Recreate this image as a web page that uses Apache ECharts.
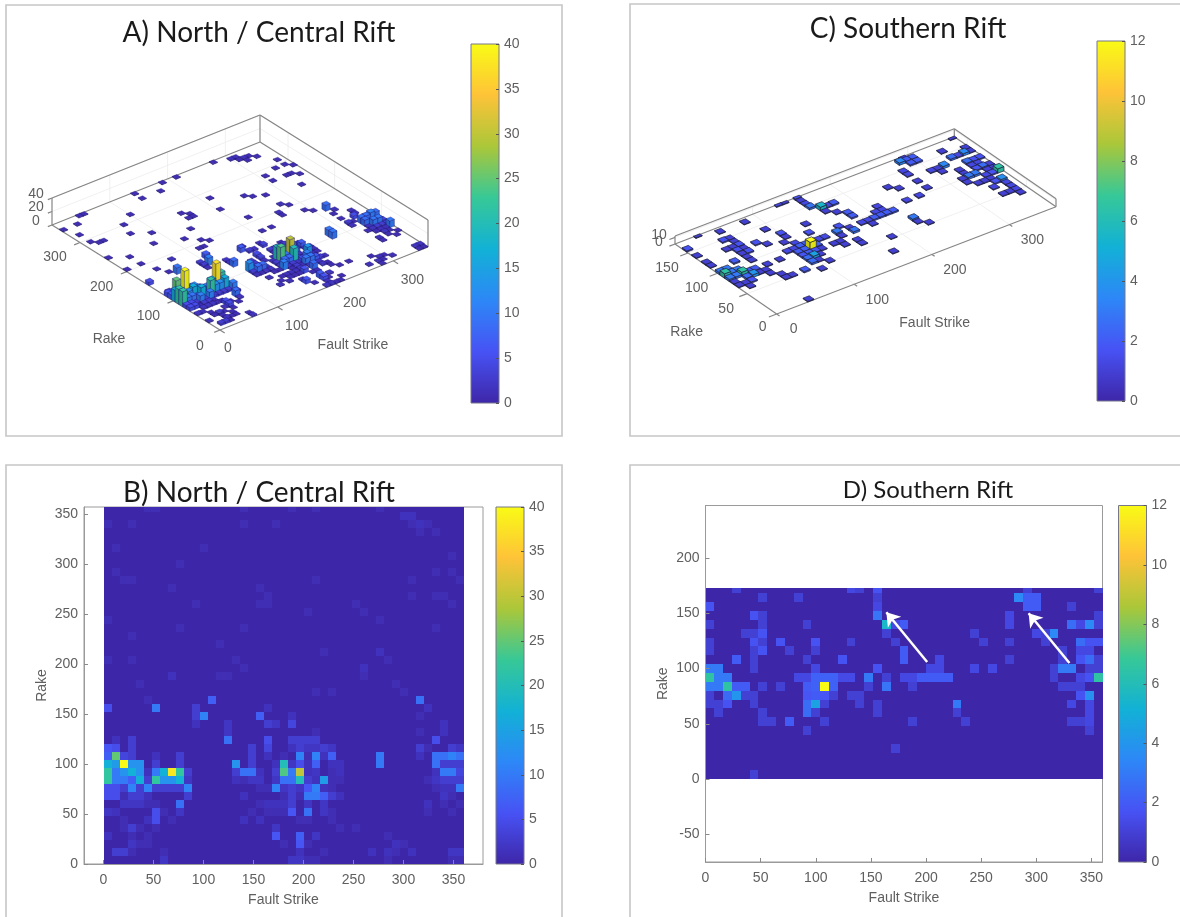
<!DOCTYPE html>
<html><head><meta charset="utf-8">
<style>html,body{margin:0;padding:0;background:#fff}#c{width:1180px;height:917px}</style>
<script src="https://cdn.jsdelivr.net/npm/echarts@6/dist/echarts.min.js"></script>
</head><body><div id="c"></div>
<script>
// ---- data ----
const binWidth = 8;
const parulaStops = ['#3E26A8','#4752F4','#2D87F7','#12B1D6','#37C897','#ABC739','#FEC338','#F9FB15'];
const northMax = 40, southMax = 12;
const northTicksColor = [0,5,10,15,20,25,30,35,40];
const southTicksColor = [0,2,4,6,8,10,12];
const strikeTicks = [0,50,100,150,200,250,300,350];
const rakeTicksB = [0,50,100,150,200,250,300,350];
const rakeTicksD = [-50,0,50,100,150,200];
const strike3DTicks = [0,100,200,300];
const rake3DTicksA = [0,100,200,300];
const rake3DTicksC = [0,50,100,150];
const z3DTicksA = [0,20,40];
const z3DTicksC = [0,10];
// [strike bin, rake bin, count]
const northCells = [
[7,0,2],[23,0,2],[24,0,2],[25,0,1],[26,0,1],[43,0,1],[44,0,1],[35,0,1],
[1,1,3],[2,1,3],[3,1,1],[7,1,1],[24,1,1.5],[27,1,1],[33,1,1.5],[35,1,1.5],[36,1,1],[38,1,1.5],[43,1,2],[44,1,2],
[3,2,2],[4,2,1],[5,2,1],[24,2,6],[25,2,1],[36,2,1.5],[37,2,1],[22,2,1],
[0,3,1.5],[3,3,1],[5,3,1],[21,3,6],[24,3,7],[26,3,2],[35,3,1],
[2,4,1],[3,4,3],[4,4,1],[6,4,1],[21,4,2],[29,4,1],[31,4,1],
[2,5,1],[5,5,1.5],[6,5,5],[8,5,1],[17,5,1.5],[19,5,1.5],[24,5,1],[25,5,1],[28,5,1],
[0,6,2],[1,6,1.5],[6,6,5],[7,6,1],[9,6,2],[18,6,1],[20,6,1],[21,6,1],[22,6,1],[23,6,6],[25,6,9],[27,6,2],[28,6,1],[40,6,1],[43,6,1],
[2,7,2],[3,7,2],[4,7,2],[5,7,1],[6,7,1],[9,7,9],[19,7,1],[20,7,1.5],[21,7,1.5],[22,7,1.5],[23,7,3],[25,7,2],[27,7,2],[40,7,1.5],[42,7,1],[44,7,1],
[0,8,5],[1,8,5],[2,8,1],[3,8,3],[4,8,3],[5,8,1.5],[10,8,3],[17,8,1.5],[22,8,1],[23,8,3],[24,8,1],[25,8,10],[26,8,10],[27,8,7],[28,8,3],[29,8,1.5],[42,8,2],[43,8,1],
[0,9,5],[1,9,5],[2,9,3],[3,9,11],[4,9,3],[5,9,11],[6,9,3],[7,9,3],[8,9,3],[9,9,3],[10,9,11],[19,9,1],[20,9,1],[21,9,11],[22,9,2],[23,9,3],[24,9,2],[25,9,6],[26,9,11],[27,9,1.5],[28,9,1],[41,9,1],[42,9,1.5],[43,9,1.5],[44,9,10],
[0,10,22],[1,10,10],[2,10,10],[3,10,7],[4,10,17],[5,10,3],[6,10,22],[7,10,13],[8,10,13],[9,10,17],[10,10,2],[16,10,1.5],[17,10,1],[18,10,2],[19,10,2],[21,10,2],[22,10,9],[23,10,9],[24,10,20],[25,10,3],[26,10,1.5],[27,10,14],[28,10,1],[29,10,1],[40,10,1],[41,10,2],[42,10,3],[43,10,3],[44,10,3],
[0,11,22],[1,11,10],[2,11,13],[3,11,17],[4,11,13],[5,11,1.5],[6,11,10],[7,11,17],[8,11,38],[9,11,22],[10,11,3],[16,11,3],[17,11,9],[18,11,9],[19,11,1.5],[21,11,3],[22,11,24],[23,11,10],[24,11,30],[25,11,1.5],[26,11,2],[28,11,1],[29,11,1.5],[41,11,1.5],[42,11,10],[43,11,10],[44,11,4],
[0,12,17],[1,12,14],[2,12,40],[3,12,13],[4,12,13],[6,12,3],[9,12,3],[16,12,13],[18,12,3],[21,12,1.5],[22,12,20],[23,12,2],[24,12,5],[25,12,1.5],[26,12,7],[28,12,1.5],[29,12,1.5],[34,12,10],[41,12,9],[42,12,3],[43,12,3],[44,12,3],
[0,13,7],[1,13,25],[2,13,4],[3,13,3],[6,13,1.5],[9,13,3],[18,13,3],[20,13,1.5],[22,13,1],[24,13,11],[25,13,1],[26,13,11],[27,13,1.5],[28,13,7],[34,13,10],[39,13,1.5],[41,13,9],[42,13,9],[43,13,11],[44,13,9],
[0,14,6],[1,14,5],[3,14,3],[18,14,3],[20,14,4],[23,14,1.5],[24,14,3],[25,14,2],[26,14,2],[27,14,3],[28,14,2],[39,14,3],[40,14,1],[43,14,3],[44,14,2],
[1,15,1.5],[3,15,3],[15,15,9],[20,15,5],[23,15,3],[24,15,3],[25,15,3],[26,15,3],[41,15,5],
[15,16,2],[26,16,1],[42,16,1.5],[39,16,1],
[11,17,1.5],[15,17,2],[20,17,3],[21,17,2],[23,17,4],[42,17,1.5],
[11,18,3],[12,18,11],[19,18,7],[23,18,1.5],[39,18,1],
[0,19,5],[6,19,10],[11,19,3],[20,19,1.5],[40,19,1.5],
[5,20,1],[13,20,7],[39,20,9],
[26,21,1],[28,21,1],[37,21,1],
[36,22,1],[4,22,1],
[14,23,1],[15,23,1],[8,23,1.5],[32,23,1],
[17,24,1],[32,24,1.5],
[3,25,1],[0,25,1],[16,25,1],[35,25,1],
[27,26,1],[34,26,1.5],
[14,27,1],[3,28,1],[9,29,1],[17,29,1],[41,29,1],
[0,30,1],[34,30,1],[25,31,1],[32,31,1],
[11,32,1],[19,32,1],[20,32,1],[31,32,1],[43,32,1],
[20,33,1],[38,33,1],[41,33,1],[42,33,1],
[8,34,1],[19,34,1],
[2,35,1],[3,35,1],[26,35,1],[38,35,1],[44,35,1],
[1,36,1],[41,36,1],[43,36,1],
[9,37,1],[43,38,1],
[1,39,1],[12,39,1],
[17,42,1],[21,42,1],[3,42,1],[0,42,1],[38,42,1],[39,42,1.5],[40,42,1],
[37,43,1.5],[38,43,1.5],
[5,44,1],[6,44,1],[17,44,1],[23,44,1],[26,44,1],[34,44,1],[41,41,1],[39,41,1]
];
const southCells = [
[5,0,1],[21,3,1],[11,5,1],[43,5,1],
[6,6,1],[7,6,1],[9,6,2],[13,6,1],[23,6,1],[29,6,1],[41,6,1],[42,6,1],[43,6,1.3],
[1,7,1],[6,7,1],[11,7,2.6],[12,7,1],[19,7,1],[28,7,1],[43,7,1.3],
[0,8,1],[1,8,1],[2,8,1.7],[5,8,1],[11,8,2.6],[12,8,4.5],[13,8,1],[17,8,1],[19,8,1],[28,8,3],[41,8,1.3],[43,8,1.3],
[0,9,1],[2,9,2.5],[3,9,4],[4,9,1],[5,9,1],[11,9,1.8],[12,9,2],[13,9,1.8],[14,9,1],[16,9,1],[17,9,1],[42,9,1.7],[43,9,3.8],
[0,10,3],[1,10,3],[2,10,6.5],[3,10,2],[4,10,2],[6,10,1],[8,10,1],[11,10,2],[12,10,2.2],[13,10,12],[14,10,2.2],[18,10,1],[20,10,2.8],[23,10,1],[40,10,1],[41,10,1],[42,10,1],
[0,11,6.5],[1,11,3],[2,11,3],[10,11,1.3],[11,11,1.3],[12,11,2.2],[13,11,2.2],[14,11,2.2],[15,11,1.4],[16,11,1.4],[18,11,3],[20,11,1],[22,11,1.3],[23,11,1.3],[24,11,2],[25,11,2],[26,11,2],[27,11,2],[39,11,1],[42,11,1.3],[43,11,1.7],[44,11,6.5],
[0,12,3],[1,12,3],[5,12,1],[12,12,1.3],[19,12,1.7],[25,12,1.3],[26,12,1.3],[30,12,1.3],[32,12,1.3],[39,12,1],[40,12,3],[41,12,3],[43,12,1],[44,12,1],
[3,13,2],[5,13,1],[11,13,1],[15,13,1.7],[22,13,2],[26,13,1.3],[34,13,1],[40,13,1],[42,13,1.7],[43,13,2.6],[44,13,1],
[0,14,1],[5,14,1],[6,14,1.7],[9,14,1],[12,14,1],[22,14,2],[40,14,1],[42,14,1.3],[43,14,1.3],
[0,15,1],[5,15,1.7],[6,15,1],[8,15,1.7],[12,15,1.7],[16,15,1],[21,15,1],[31,15,1],[34,15,1],[38,15,1],[42,15,2.6],[43,15,1.7],[44,15,1.7],
[4,16,1],[5,16,1],[6,16,1.7],[20,16,1],[30,16,1],[37,16,1.3],[38,16,1],[39,16,3.5],
[0,17,1],[6,17,1],[11,17,1],[20,17,5.5],[21,17,1.3],[22,17,2],[34,17,1.3],[41,17,2.6],[42,17,1.3],[43,17,3.5],[44,17,1],
[5,18,1.7],[6,18,1],[19,18,2.8],[34,18,1.3],[44,18,1],
[0,19,1.7],[19,19,1.3],[36,19,2],[37,19,2],[41,19,1],
[6,20,1],[10,20,1],[19,20,1],[35,20,3.5],[36,20,2],[37,20,2],
[3,21,1],[16,21,1.3],[17,21,1],[19,21,1.7],[36,21,1],[44,21,1]
];
const arrowTails = [[201,106],[330,105]];
const arrowTips = [[164,151],[293,150]];

// ---- look ----
const FONT = '"Liberation Sans",Arial,sans-serif';
const TICK = '#5f5f5f';
const tickStyle = {color:TICK,fontFamily:FONT,fontSize:14};
const frameA = {o:[220,330],sv:[208/360,-83/360],rv:[-168/360,-105/360],zv:27/40,sMax:360,rMax:360,zMax:40,vMax:northMax,
  stroke:'rgba(30,20,110,0.9)',lw:0.4,
  sOff:[19,19],rOff:[-25,15],sOff0:[8,18],rOff0:[-20,16],zOff:[-16,-4]};
const frameC = {o:[776.7,314],sv:[279.3/360,-107.3/360],rv:[-101.7/172,-70/172],zv:8/12,sMax:360,rMax:172,zMax:12,vMax:southMax,
  stroke:'#20203a',lw:0.7,
  sOff:[23,16],rOff:[-21,15],sOff0:[17,15],rOff0:[-14,13],zOff:[-16,-2]};
const nameOffA = [{t:'Fault Strike',dx:133,dy:15},{t:'Rake',dx:-111,dy:9}];
const nameOffC = [{t:'Fault Strike',dx:158,dy:9},{t:'Rake',dx:-90,dy:18}];

function hexRgb(h){return [1,3,5].map(i=>parseInt(h.substr(i,2),16));}
function colorAt(t){
  t=Math.max(0,Math.min(1,t))*(parulaStops.length-1);
  const i=Math.min(Math.floor(t),parulaStops.length-2),f=t-i;
  const a=hexRgb(parulaStops[i]),b=hexRgb(parulaStops[i+1]);
  return 'rgb('+a.map((v,k)=>Math.round(v+(b[k]-v)*f)).join(',')+')';
}
function shade(rgb,k){
  const m=rgb.match(/\d+/g).map(Number);
  return 'rgb('+m.map(v=>Math.round(v*k)).join(',')+')';
}
function project(f,s,r,z){
  return [f.o[0]+s*f.sv[0]+r*f.rv[0], f.o[1]+s*f.sv[1]+r*f.rv[1]-z*f.zv];
}
function fullGrid(cells,nx,ny){
  const m={};cells.forEach(c=>{m[c[0]+'_'+c[1]]=c[2];});
  const out=[];
  for(let x=0;x<nx;x++)for(let y=0;y<ny;y++)out.push([x*binWidth,y*binWidth,m[x+'_'+y]||0]);
  return out;
}
function heatSeries(idx,cells,ny,rakeTop,vMax){
  return {type:'custom',xAxisIndex:idx,yAxisIndex:idx,silent:true,z:2,clip:true,
    data:fullGrid(cells,45,ny),
    renderItem:(p,api)=>{
      const x=api.value(0),y=api.value(1),v=api.value(2);
      const a=api.coord([x,Math.min(y+binWidth,rakeTop)]),b=api.coord([Math.min(x+binWidth,360),y]);
      const x0=Math.round(a[0]),y0=Math.round(a[1]),x1=Math.round(b[0]),y1=Math.round(b[1]);
      return {type:'rect',shape:{x:x0,y:y0,width:x1-x0,height:y1-y0},style:{fill:colorAt(v/vMax)}};
    }};
}
function colorbarSeries(idx,vMax){
  return {type:'custom',xAxisIndex:idx,yAxisIndex:idx,silent:true,z:1,data:[[0,vMax]],
    renderItem:(p,api)=>{
      const a=api.coord([0,api.value(1)]),b=api.coord([1,0]);
      return {type:'rect',shape:{x:a[0],y:a[1],width:b[0]-a[0],height:b[1]-a[1]},
        style:{fill:new echarts.graphic.LinearGradient(0,1,0,0,parulaStops.map((c,i)=>({offset:i/(parulaStops.length-1),color:c}))),stroke:'#77778a',lineWidth:1}};
    }};
}
function barSeries(f,cells){
  const sorted=cells.slice().sort((a,b)=>(b[0]+b[1])-(a[0]+a[1]));
  return {type:'custom',coordinateSystem:'none',silent:true,z:5,data:sorted,
    renderItem:(p,api)=>{
      const s0=api.value(0)*binWidth,r0=api.value(1)*binWidth,v=api.value(2);
      const s1=s0+binWidth,r1=Math.min(r0+binWidth,f.rMax);
      const col=colorAt(v/f.vMax);
      const poly=(pts,fill)=>({type:'polygon',shape:{points:pts},style:{fill:fill,stroke:f.stroke,lineWidth:f.lw}});
      const P=(s,r,z)=>project(f,s,r,z);
      return {type:'group',children:[
        poly([P(s0,r0,0),P(s0,r1,0),P(s0,r1,v),P(s0,r0,v)],shade(col,0.78)),
        poly([P(s0,r0,0),P(s1,r0,0),P(s1,r0,v),P(s0,r0,v)],shade(col,0.9)),
        poly([P(s0,r0,v),P(s1,r0,v),P(s1,r1,v),P(s0,r1,v)],col)
      ]};
    }};
}
function frameSeries(f,sTicks,rTicks,zTicks){
  const S=f.sMax,R=f.rMax,Z=f.zMax,segs=[];
  const dark=1,light=0;
  sTicks.forEach(t=>{ if(t){segs.push([t,0,0,t,R,0,light],[t,R,0,t,R,Z,light]);} segs.push([t,0,0,t,-R*0.028,0,dark]); });
  rTicks.forEach(t=>{ if(t){segs.push([0,t,0,S,t,0,light],[S,t,0,S,t,Z,light]);} segs.push([0,t,0,-S*0.028,t,0,dark]); });
  zTicks.forEach(t=>{ if(t){segs.push([0,R,t,S,R,t,light],[S,R,t,S,0,t,light]);} segs.push([0,R,t,-S*0.02,R,t,dark]); });
  [[0,0,0,S,0,0],[0,0,0,0,R,0],[0,R,0,S,R,0],[S,R,0,S,0,0],
   [0,R,Z,S,R,Z],[S,R,Z,S,0,Z],[0,R,0,0,R,Z],[S,R,0,S,R,Z],[S,0,0,S,0,Z]].forEach(e=>segs.push(e.concat(dark)));
  return {type:'custom',coordinateSystem:'none',silent:true,z:3,data:segs,
    renderItem:(p,api)=>{
      const a=project(f,api.value(0),api.value(1),api.value(2)),b=project(f,api.value(3),api.value(4),api.value(5));
      const d=api.value(6);
      return {type:'line',shape:{x1:a[0],y1:a[1],x2:b[0],y2:b[1]},style:{stroke:d?'#858585':'#ececec',lineWidth:d?1.2:0.8}};
    }};
}
function labelSeries(f,sTicks,rTicks,zTicks,names){
  const items=[];
  sTicks.forEach(t=>{const q=project(f,t,0,0),o=t?f.sOff:f.sOff0;items.push({x:q[0]+o[0],y:q[1]+o[1],t:String(t),fs:14});});
  rTicks.forEach(t=>{const q=project(f,0,t,0),o=t?f.rOff:f.rOff0;items.push({x:q[0]+o[0],y:q[1]+o[1],t:String(t),fs:14});});
  zTicks.forEach(t=>{const q=project(f,0,f.rMax,t);items.push({x:q[0]+f.zOff[0],y:q[1]+f.zOff[1],t:String(t),fs:14});});
  names.forEach(n=>{items.push({x:f.o[0]+n.dx,y:f.o[1]+n.dy,t:n.t,fs:14});});
  return {type:'custom',coordinateSystem:'none',silent:true,z:6,data:items.map((_,i)=>[i]),
    renderItem:(p)=>{const it=items[p.dataIndex];
      return {type:'text',style:{text:it.t,x:it.x,y:it.y,fill:TICK,font:it.fs+'px '+FONT,textAlign:'center',textVerticalAlign:'middle'}};}};
}
function mainAxis(idx,kind,min,max,ticks,name,gap){
  return {type:'value',gridIndex:idx,min:min,max:max,name:name,nameLocation:'middle',nameGap:gap,
    nameTextStyle:{color:TICK,fontFamily:FONT,fontSize:14},splitLine:{show:false},
    axisLine:{show:true,onZero:false,lineStyle:{color:'#9a9a9a',width:1}},
    axisTick:{show:true,inside:true,length:4,customValues:ticks,lineStyle:{color:'#8a8a8a'}},
    axisLabel:Object.assign({customValues:ticks,margin:kind==='x'?9:6},tickStyle),
    z:10};
}
function cbarAxes(idx,vMax,ticks){
  return [{type:'value',gridIndex:idx,min:0,max:1,show:false},
    {type:'value',gridIndex:idx,position:'right',min:0,max:vMax,splitLine:{show:false},
     axisLine:{show:false,onZero:false},
     axisTick:{show:true,inside:true,length:3,customValues:ticks,lineStyle:{color:'#555'}},
     axisLabel:Object.assign({customValues:ticks,margin:5,padding:[3,0,0,0]},tickStyle),z:10}];
}
const titleOf=(t,x,y,fs)=>({text:t,left:x,top:y,textAlign:'center',
  textStyle:{fontFamily:'Lato,"Open Sans",sans-serif',fontWeight:'normal',fontSize:fs,color:'#1a1a1a'}});
const panelRect=(x,y,w,h)=>({type:'rect',silent:true,z:-1,shape:{x,y,width:w,height:h},style:{fill:'none',stroke:'#c6c6c6',lineWidth:1.6}});

const cbA=cbarAxes(2,northMax,northTicksColor),cbB=cbarAxes(3,northMax,northTicksColor),
      cbC=cbarAxes(4,southMax,southTicksColor),cbD=cbarAxes(5,southMax,southTicksColor);

const option={
  animation:false,backgroundColor:'#fff',
  title:[titleOf('A) North / Central Rift',254,14,28),titleOf('C) Southern Rift',903,10,28),
         titleOf('B) North / Central Rift',254,474,28),titleOf('D) Southern Rift',923,473,24)],
  graphic:[panelRect(6,5,556,431),panelRect(630,4,580,432),panelRect(6,465,556,480),panelRect(630,465,580,480)],
  grid:[
    {left:84,top:507,width:399,height:357,show:true,borderColor:'#9a9a9a',borderWidth:1,backgroundColor:'transparent'},
    {left:705.5,top:505.5,width:397,height:356.5,show:true,borderColor:'#9a9a9a',borderWidth:1,backgroundColor:'transparent'},
    {left:471,top:44,width:28,height:359},
    {left:496,top:507,width:28,height:357},
    {left:1097,top:41,width:28,height:360},
    {left:1118.5,top:505.5,width:28,height:356.5}
  ],
  xAxis:[mainAxis(0,'x',-19.5,379.5,strikeTicks,'Fault Strike',29),mainAxis(1,'x',0,360,strikeTicks,'Fault Strike',29),cbA[0],cbB[0],cbC[0],cbD[0]],
  yAxis:[mainAxis(0,'y',0,357,rakeTicksB,'Rake',35),mainAxis(1,'y',-75,247.5,rakeTicksD,'Rake',35),cbA[1],cbB[1],cbC[1],cbD[1]],
  series:[
    heatSeries(0,northCells,45,357,northMax),
    heatSeries(1,southCells,22,173,southMax),
    {type:'lines',coordinateSystem:'cartesian2d',xAxisIndex:1,yAxisIndex:1,silent:true,z:8,polyline:false,
     symbol:['none','arrow'],symbolSize:13,lineStyle:{color:'#fff',width:2.5,opacity:1,curveness:0},
     data:arrowTails.map((t,i)=>({coords:[t,arrowTips[i]]}))},
    colorbarSeries(2,northMax),colorbarSeries(3,northMax),colorbarSeries(4,southMax),colorbarSeries(5,southMax),
    frameSeries(frameA,strike3DTicks,rake3DTicksA,z3DTicksA),
    barSeries(frameA,northCells),
    labelSeries(frameA,strike3DTicks,rake3DTicksA,z3DTicksA,nameOffA),
    frameSeries(frameC,strike3DTicks,rake3DTicksC,z3DTicksC),
    barSeries(frameC,southCells),
    labelSeries(frameC,strike3DTicks,rake3DTicksC,z3DTicksC,nameOffC)
  ]
};
echarts.init(document.getElementById('c'),null,{renderer:'canvas'}).setOption(option);
</script>
</body></html>
